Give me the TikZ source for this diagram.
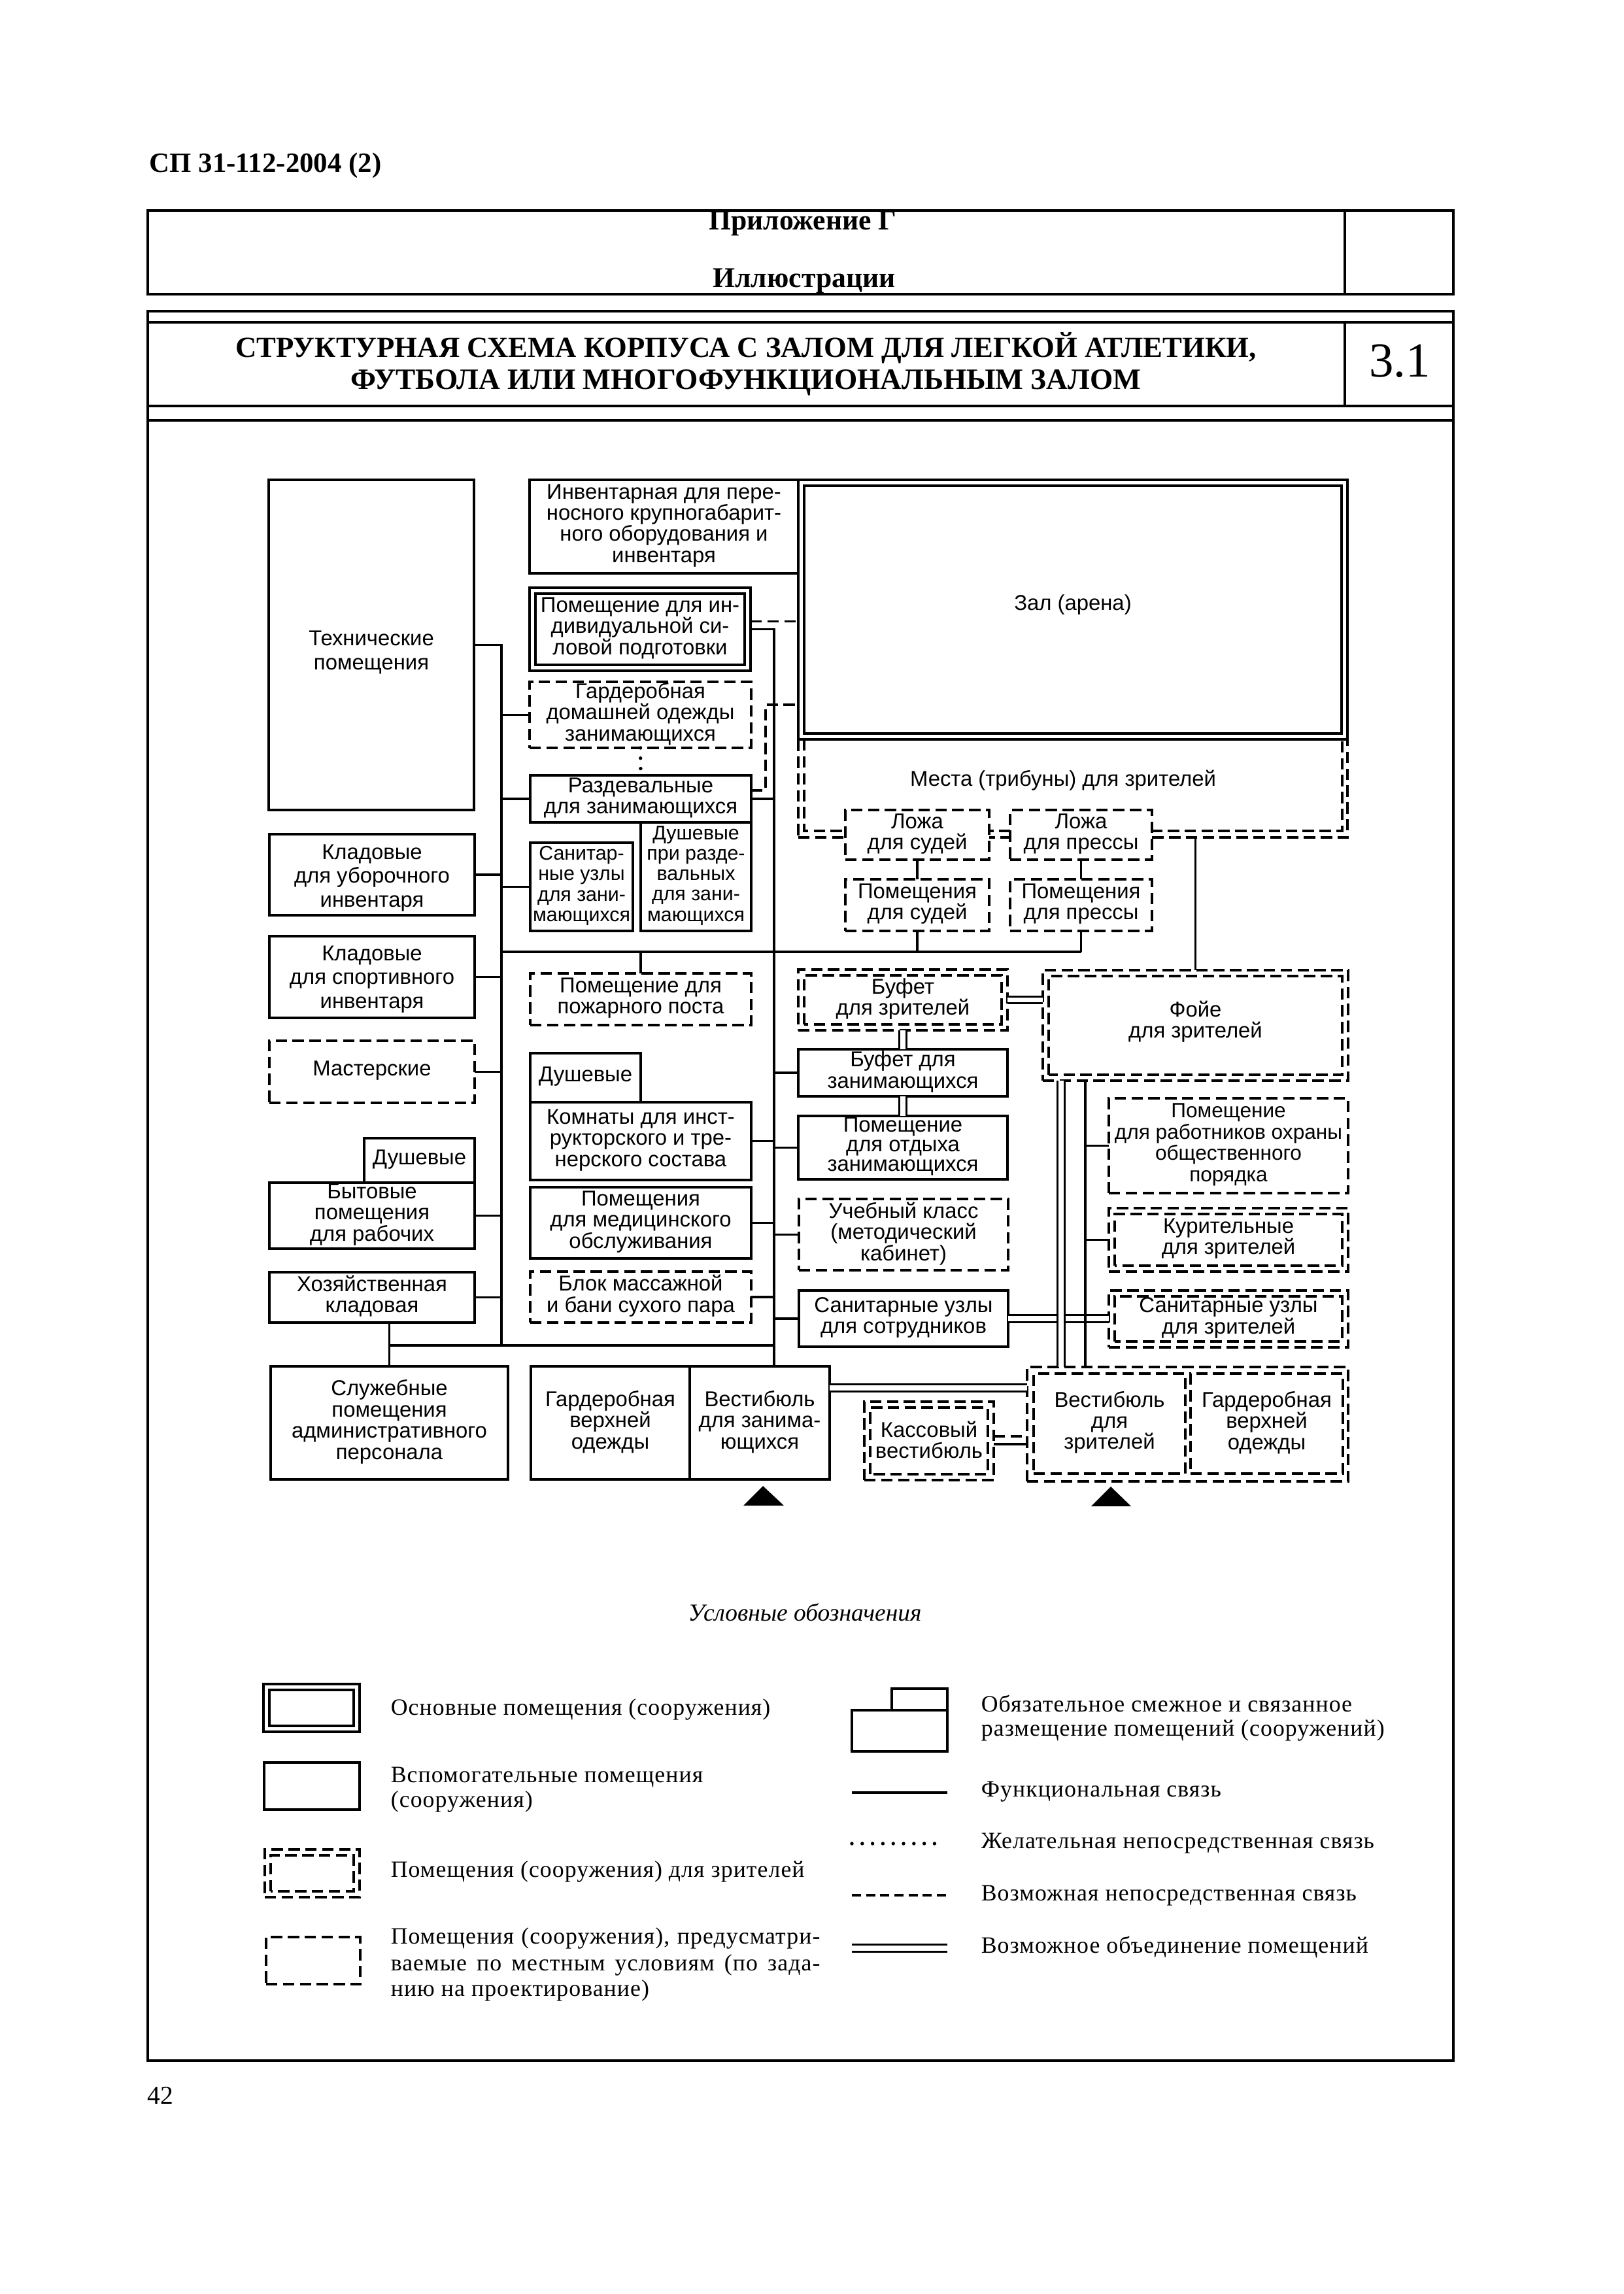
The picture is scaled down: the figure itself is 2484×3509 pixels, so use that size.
\documentclass[tikz,border=0pt]{standalone}
\usepackage{fontspec}
\setmainfont{Liberation Serif}
\newfontfamily\sansf{Liberation Sans}
\newfontfamily\legf[LetterSpace=3]{Liberation Serif}
\usetikzlibrary{fit}
\def\pu{0.084541mm}
\tikzset{
 room/.style={draw, line width=0.75pt, inner sep=0pt, outer sep=0pt},
 aux/.style={room},
 opt/.style={room, dash pattern=on 4.2pt off 2pt},
 roomtext/.style={inner sep=0pt, outer sep=0pt, align=center,
   font={\sansf\fontsize{7.9}{7.8}\selectfont}},
 narrowtext/.style={font={\sansf\fontsize{7.3}{7.5}\selectfont}},
 widelead/.style={font={\sansf\fontsize{7.9}{8.8}\selectfont}},
 tightlead/.style={font={\sansf\fontsize{7.9}{7.2}\selectfont}},
 mainroom/.style={room, path picture={\draw[line width=0.9pt]
   ([shift={(9*\pu,9*\pu)}]path picture bounding box.south west) rectangle
   ([shift={(-9*\pu,-9*\pu)}]path picture bounding box.north east);}},
 specroom/.style={opt, path picture={\draw[line width=0.75pt, dash pattern=on 4.2pt off 2pt]
   ([shift={(9*\pu,9*\pu)}]path picture bounding box.south west) rectangle
   ([shift={(-9*\pu,-9*\pu)}]path picture bounding box.north east);}},
 link/.style={line width=0.75pt},
 maybe/.style={line width=0.75pt, dash pattern=on 4.2pt off 2pt},
 wish/.style={line width=1.3pt, dash pattern=on 0pt off 3.8pt, line cap=round},
 unite/.style={double, double distance=1.9pt, line width=0.7pt},
 frameline/.style={line width=0.9pt},
 legtext/.style={anchor=base west, inner sep=0pt, font={\legf\fontsize{8.6}{9.6}\selectfont}},
}
% \room[text options]{box style}{x1}{y1}{x2}{y2}{name}{text}
\newcommand\room[8][]{%
  \node[#2, fit={(#3,#4) (#5,#6)}] (#7) {};%
  \node[roomtext,#1] (#7-t) at ([yshift=0.4pt]#7.center) {#8};}
\begin{document}
\begin{tikzpicture}[x=0.084541mm, y=-0.084541mm]
\useasboundingbox (0,0) rectangle (2484,3509);

% ---------- page frame and headings ----------
\node[anchor=base west, inner sep=0pt, font={\bfseries\fontsize{10.3}{12}\selectfont}] (code) at (228,264) {СП 31-112-2004 (2)};
\draw[frameline] (226,322) rectangle (2223,450);
\draw[frameline] (2057,322) -- (2057,450);
\node[anchor=base, inner sep=0pt, font={\bfseries\fontsize{10.5}{12}\selectfont}] (app) at (1228,352) {Приложение Г};
\node[anchor=base, inner sep=0pt, font={\bfseries\fontsize{10.5}{12}\selectfont}] (ill) at (1230,440) {Иллюстрации};

\draw[frameline] (226,476) rectangle (2223,3152);
\draw[frameline] (226,493) -- (2223,493);
\draw[frameline] (226,621) -- (2223,621);
\draw[frameline] (226,643) -- (2223,643);
\draw[frameline] (2057,493) -- (2057,621);
\node[anchor=base, inner sep=0pt, font={\bfseries\fontsize{10.75}{12}\selectfont}] (title1) at (1141,547) {СТРУКТУРНАЯ СХЕМА КОРПУСА С ЗАЛОМ ДЛЯ ЛЕГКОЙ АТЛЕТИКИ,};
\node[anchor=base, inner sep=0pt, font={\bfseries\fontsize{10.9}{12}\selectfont}] (title2) at (1141,596) {ФУТБОЛА ИЛИ МНОГОФУНКЦИОНАЛЬНЫМ ЗАЛОМ};
\node[anchor=base, inner sep=0pt, font={\fontsize{18}{20}\selectfont}] (num) at (2141,577) {3.1};
\node[anchor=base west, inner sep=0pt, font={\fontsize{9.5}{11}\selectfont}] (page) at (225,3218) {42};

% ---------- left column ----------
\room[widelead,yshift=-3.1pt]{aux}{411}{734}{725}{1239}{tech}{Технические\\помещения}
\room[widelead,yshift=-1.6pt]{aux}{412}{1276}{726}{1400}{klu}{Кладовые\\для уборочного\\инвентаря}
\room[widelead,yshift=-1.2pt]{aux}{412}{1432}{726}{1557}{kls}{Кладовые\\для спортивного\\инвентаря}
\room{opt}{412}{1592}{726}{1687}{mast}{Мастерские}
\room{aux}{557}{1741}{726}{1809}{dushl}{Душевые}
\room{aux}{412}{1809}{726}{1910}{byt}{Бытовые\\помещения\\для рабочих}
\room{aux}{412}{1946}{726}{2023}{hoz}{Хозяйственная\\кладовая}
\room{aux}{414}{2090}{777}{2263}{sluzh}{Служебные\\помещения\\административного\\персонала}

% ---------- middle column ----------
\room{aux}{810}{734}{1221}{877}{inv}{Инвентарная для пере-\\носного крупногабарит-\\ного оборудования и\\инвентаря}
\room{mainroom}{810}{899}{1148}{1026}{ind}{Помещение для ин-\\дивидуальной си-\\ловой подготовки}
\room{opt}{810}{1043}{1149}{1144}{gard}{Гардеробная\\домашней одежды\\занимающихся}
\room{aux}{811}{1186}{1149}{1258}{razd}{Раздевальные\\для занимающихся}
\room[narrowtext]{aux}{811}{1289}{968}{1424}{sanz}{Санитар-\\ные узлы\\для зани-\\мающихся}
\room[narrowtext]{aux}{980}{1258}{1149}{1424}{dushr}{Душевые\\при разде-\\вальных\\для зани-\\мающихся}
\room{opt}{811}{1489}{1149}{1568}{fire}{Помещение для\\пожарного поста}
\room{aux}{811}{1611}{980}{1686}{dushm}{Душевые}
\room{aux}{811}{1686}{1149}{1805}{komn}{Комнаты для инст-\\рукторского и тре-\\нерского состава}
\room{aux}{811}{1816}{1149}{1925}{med}{Помещения\\для медицинского\\обслуживания}
\room{opt}{811}{1945}{1149}{2023}{mass}{Блок массажной\\и бани сухого пара}
\room{aux}{812}{2090}{1055}{2263}{gvo}{Гардеробная\\верхней\\одежды}
\room{aux}{1055}{2090}{1269}{2263}{vestz}{Вестибюль\\для занима-\\ющихся}

% ---------- hall and stands ----------
\node[opt, fit={(1221,1131) (2061,1281)}] (mesta) {};
\draw[maybe] ([xshift=9*\pu]mesta.north west) -- ([shift={(9*\pu,10*\pu)}]mesta.south west)
   -- ([shift={(-8*\pu,10*\pu)}]mesta.south east) -- ([xshift=-8*\pu]mesta.north east);
\node[roomtext] (mestat) at (1626,1194) {Места (трибуны) для зрителей};
\room[yshift=1.5pt]{mainroom}{1221}{734}{2061}{1131}{zal}{Зал (арена)}
\room{opt,fill=white}{1293}{1239}{1513}{1315}{lozhs}{Ложа\\для судей}
\room{opt,fill=white}{1545}{1239}{1762}{1315}{lozhp}{Ложа\\для прессы}
\room{opt}{1293}{1345}{1513}{1424}{poms}{Помещения\\для судей}
\room{opt}{1545}{1345}{1762}{1424}{pomp}{Помещения\\для прессы}

% ---------- right part ----------
\room{specroom}{1221}{1483}{1541}{1576}{bufz}{Буфет\\для зрителей}
\room[yshift=1pt]{specroom}{1595}{1484}{2062}{1653}{foyer}{Фойе\\для зрителей}
\room{aux}{1221}{1605}{1541}{1677}{bufzan}{Буфет для\\занимающихся}
\room[tightlead]{aux}{1221}{1707}{1541}{1804}{otd}{Помещение\\для отдыха\\занимающихся}
\room[font={\sansf\fontsize{7.6}{7.8}\selectfont}]{opt}{1696}{1680}{2062}{1825}{ohr}{Помещение\\для работников охраны\\общественного\\порядка}
\room{opt}{1222}{1834}{1542}{1943}{ucheb}{Учебный класс\\(методический\\кабинет)}
\room{specroom}{1696}{1848}{2062}{1945}{kur}{Курительные\\для зрителей}
\room{aux}{1222}{1974}{1542}{2060}{sans}{Санитарные узлы\\для сотрудников}
\room{specroom}{1696}{1974}{2062}{2061}{sanzr}{Санитарные узлы\\для зрителей}
\room{specroom}{1322}{2144}{1520}{2264}{kass}{Кассовый\\вестибюль}
\node[opt, fit={(1571,2091) (2062,2266)}] (vestzr) {};
\room{opt}{1581}{2101}{1813}{2254}{vz1}{Вестибюль\\для\\зрителей}
\room{opt}{1821}{2101}{2054}{2254}{vz2}{Гардеробная\\верхней\\одежды}

% entrances
\fill (1167,2273) -- (1137,2303) -- (1199,2303) -- cycle;
\fill (1699,2274) -- (1669,2304) -- (1730,2304) -- cycle;

% ---------- connectors ----------
\coordinate (L1x) at (767,0);
\coordinate (L2x) at (1184,0);
\coordinate (H1y) at (0,1456);
\coordinate (H2y) at (0,2058);
\coordinate (F1x) at (1660,0);
\coordinate (F2x) at (1623,0);
\coordinate (V2y) at (0,2123);
\coordinate (brk) at (1171,1078);

% possible union (double lines)
\draw[unite] (sans.east) -- (sans.east -| sanzr.west);
\draw[unite] (bufz.east) -- (bufz.east -| foyer.west);
\draw[unite] (bufz.south) -- (bufzan.north);
\draw[unite] (bufzan.south) -- (otd.north);
\draw[unite] (vestz.east |- V2y) -- (vestzr.west |- V2y);
\draw[unite] (F2x |- foyer.south) -- (F2x |- vestzr.north);

% functional links
\draw[link] (tech.east) -- (tech.east -| L1x) -- (L1x |- H2y);
\foreach \n in {klu,kls,mast,byt,hoz} {\draw[link] (\n.east) -- (\n.east -| L1x);}
\foreach \n in {gard,razd,sanz} {\draw[link] (\n.west) -- (\n.west -| L1x);}
\draw[link] (L1x |- H1y) -- (pomp.south |- H1y);
\draw[link] (fire.north) -- (fire.north |- H1y);
\draw[link] (poms.south) -- (poms.south |- H1y);
\draw[link] (pomp.south) -- (pomp.south |- H1y);
\draw[link] (lozhs.south) -- (poms.north);
\draw[link] (lozhp.south) -- (pomp.north);
\draw[link] (hoz.south -| sluzh.north) -- (sluzh.north);
\draw[link] (sluzh.north |- H2y) -- (L2x |- H2y);
\draw[link] (ind.east) -- (ind.east -| L2x) -- (vestz.north -| L2x);
\foreach \n in {razd,komn,med,mass} {\draw[link] (\n.east) -- (\n.east -| L2x);}
\foreach \n in {bufzan,otd,ucheb,sans} {\draw[link] (\n.west) -- (\n.west -| L2x);}
\draw[link] (foyer.north) -- (foyer.north |- mesta.south);
\draw[link] (F1x |- foyer.south) -- (F1x |- vestzr.north);
\draw[link] (ohr.west -| F1x) -- (ohr.west);
\draw[link] (kur.west -| F1x) -- (kur.west);
\draw[line width=1.1pt] ([yshift=-5*\pu]kass.east) -- ([yshift=-5*\pu]kass.east -| vestzr.west);

% possible direct links (dashed)
\draw[maybe] ([yshift=7*\pu]kass.east) -- ([yshift=7*\pu]kass.east -| vestzr.west);
\draw[maybe] ([yshift=12*\pu]ind.east) -- ([yshift=12*\pu]ind.east -| zal.west);
\draw[maybe] ([yshift=13*\pu]razd.east) -| (brk) -- (brk -| zal.west);

% desirable direct link (dotted)
\draw[wish] (gard.south) -- (razd.north);

% ---------- legend ----------
\node[anchor=base, inner sep=0pt, font={\itshape\fontsize{9}{10}\selectfont}] (legtitle) at (1231,2479) {Условные обозначения};

\node[mainroom, fit={(403,2576) (550,2649)}] (lg1) {};
\node[aux, fit={(404,2696) (550,2768)}] (lg2) {};
\node[specroom, fit={(405,2829) (550,2902)}] (lg3) {};
\node[opt, fit={(407,2963) (551,3035)}] (lg4) {};
\node[aux, fit={(1303,2616) (1449,2679)}] (lg5) {};
\node[aux, fit={(1364,2583) (1449,2616)}] (lg5b) {};

\coordinate (lf1) at (1303,2742); \coordinate (lf2) at (1449,2742);
\coordinate (lw1) at (1303,2820); \coordinate (lw2) at (1441,2820);
\coordinate (lm1) at (1303,2899); \coordinate (lm2) at (1449,2899);
\coordinate (lu1) at (1303,2980); \coordinate (lu2) at (1449,2980);
\draw[link] (lf1) -- (lf2);
\draw[wish] (lw1) -- (lw2);
\draw[line width=0.75pt, dash pattern=on 3.4pt off 1.8pt] (lm1) -- (lm2);
\draw[unite] (lu1) -- (lu2);

\node[legtext] (t1) at (597,2623) {Основные помещения (сооружения)};
\node[legtext] (t2a) at (597,2726) {Вспомогательные помещения};
\node[legtext] (t2b) at (597,2764) {(сооружения)};
\node[legtext] (t3) at (597,2871) {Помещения (сооружения) для зрителей};
\node[legtext] (t4a) at (597,2973) {\makebox[55.5mm][s]{Помещения (сооружения), предусматри-}};
\node[legtext] (t4b) at (597,3014) {\makebox[55.5mm][s]{ваемые по местным условиям (по зада-}};
\node[legtext] (t4c) at (597,3053) {нию на проектирование)};
\node[legtext] (r1a) at (1500,2618) {Обязательное смежное и связанное};
\node[legtext] (r1b) at (1500,2655) {размещение помещений (сооружений)};
\node[legtext] (r2) at (1500,2748) {Функциональная связь};
\node[legtext] (r3) at (1500,2827) {Желательная непосредственная связь};
\node[legtext] (r4) at (1500,2907) {Возможная непосредственная связь};
\node[legtext] (r5) at (1500,2987) {Возможное объединение помещений};
\end{tikzpicture}
\end{document}
